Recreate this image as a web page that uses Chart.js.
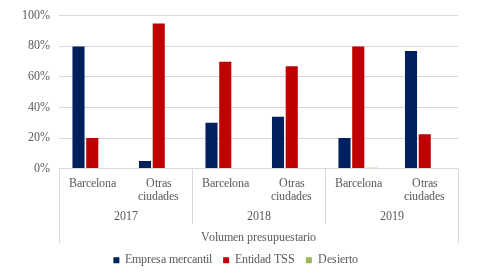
<!DOCTYPE html>
<html lang="es">
<head>
    <meta charset="UTF-8">
    <title>Volumen presupuestario</title>
    <script src="https://cdn.jsdelivr.net/npm/chart.js"></script>
    <style>
        @font-face { font-family: "RefSerif"; src: local("Liberation Serif"), local("LiberationSerif"), local("Times New Roman"); }
        html, body { margin: 0; padding: 0; background: #ffffff; }
        #box { width: 490px; height: 273px; }
    </style>
</head>
<body>
    <div id="box"><canvas id="chart"></canvas></div>

    <script>
        // categories and groups
        const cities = ["Barcelona", ["Otras", "ciudades"], "Barcelona", ["Otras", "ciudades"], "Barcelona", ["Otras", "ciudades"]];
        const years = ["2017", "2018", "2019"];
        const axisTitle = "Volumen presupuestario";

        // series values (%)
        const empresaMercantil = [80, 5, 30, 34, 20, 77];
        const entidadTSS = [20, 95, 70, 67, 80, 22.5];
        const desierto = [0, 0, 0, 0, 0.5, 0];

        const yTicks = [0, 20, 40, 60, 80, 100];

        const textGray = "#595959";
        const lineGray = "#d9d9d9";
        const serif = "RefSerif, 'Liberation Serif', 'Times New Roman', serif";
        const fontSize = 11.5;

        // draws the year row and the group dividers under the x axis
        const groupAxis = {
            id: "groupAxis",
            afterDraw(chart) {
                const ctx = chart.ctx;
                const x = chart.scales.x;
                const step = x.width / cities.length;
                const top = x.top;
                ctx.save();
                ctx.strokeStyle = lineGray;
                ctx.lineWidth = 1;
                for (let i = 0; i <= cities.length; i += 2) {
                    const px = Math.round(x.getPixelForValue(i) - step / 2) + 0.5;
                    const outer = (i === 0 || i === cities.length);
                    ctx.beginPath();
                    ctx.moveTo(px, top);
                    ctx.lineTo(px, outer ? top + 75 : top + 55);
                    ctx.stroke();
                }
                ctx.fillStyle = textGray;
                ctx.font = fontSize + "px " + serif;
                ctx.textAlign = "center";
                ctx.textBaseline = "middle";
                years.forEach((yr, g) => {
                    const cx = (x.getPixelForValue(g * 2) + x.getPixelForValue(g * 2 + 1)) / 2;
                    ctx.fillText(yr, cx, top + 48);
                });
                ctx.restore();
            }
        };

        function draw() {
            new Chart(document.getElementById("chart").getContext("2d"), {
                type: "bar",
                data: {
                    labels: cities,
                    datasets: [
                        { label: "Empresa mercantil", data: empresaMercantil, backgroundColor: "#002060" },
                        { label: "Entidad TSS", data: entidadTSS, backgroundColor: "#c00000" },
                        { label: "Desierto", data: desierto, backgroundColor: "#9bbb59" }
                    ]
                },
                options: {
                    responsive: true,
                    maintainAspectRatio: false,
                    animation: false,
                    layout: { padding: { top: 8, right: 32, left: 13, bottom: -3 } },
                    datasets: {
                        bar: { categoryPercentage: 0.62, barPercentage: 0.88 }
                    },
                    plugins: {
                        legend: {
                            position: "bottom",
                            labels: {
                                boxWidth: 6,
                                boxHeight: 6,
                                padding: 11,
                                color: textGray,
                                font: { family: serif, size: fontSize }
                            }
                        },
                        tooltip: { enabled: false }
                    },
                    scales: {
                        x: {
                            grid: { display: false, drawTicks: false },
                            border: { display: false },
                            ticks: {
                                color: textGray,
                                font: { family: serif, size: fontSize },
                                maxRotation: 0,
                                autoSkip: false,
                                padding: 8
                            },
                            title: {
                                display: true,
                                text: axisTitle,
                                color: textGray,
                                font: { family: serif, size: fontSize },
                                padding: { top: 18.5, bottom: -1 }
                            }
                        },
                        y: {
                            min: 0,
                            max: 100,
                            afterBuildTicks: (axis) => { axis.ticks = yTicks.map(v => ({ value: v })); },
                            grid: { color: lineGray, drawTicks: false },
                            border: { display: false },
                            ticks: {
                                color: textGray,
                                font: { family: serif, size: fontSize },
                                padding: 9,
                                callback: (v) => v + "%"
                            }
                        }
                    }
                },
                plugins: [groupAxis]
            });
        }

        document.fonts.load(fontSize + "px RefSerif").then(draw, draw);
    </script>
</body>
</html>
